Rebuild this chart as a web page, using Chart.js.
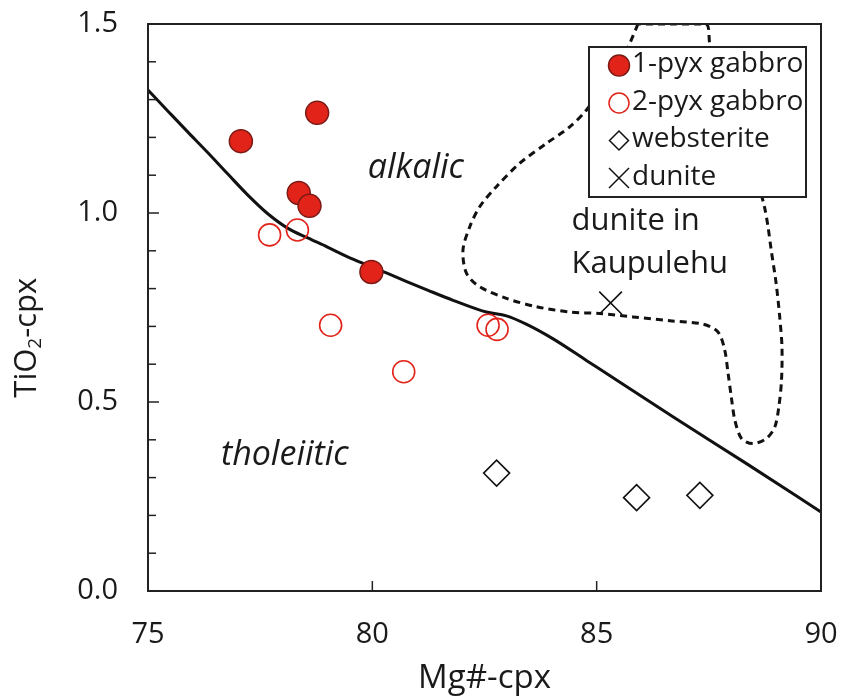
<!DOCTYPE html>
<html>
<head>
<meta charset="utf-8">
<script src="https://cdn.jsdelivr.net/npm/chart.js@4"></script>
<style>
html,body{margin:0;padding:0;background:#fff;}
canvas{display:block;}
</style>
</head>
<body>
<canvas id="c" width="842" height="698"></canvas>
<script>
// ---- data ----
const xTickLabels = ['75','80','85','90'];
const yTickLabels = ['0.0','0.5','1.0','1.5'];

const gabbro1X = [77.07, 78.77, 78.36, 78.60, 79.98];
const gabbro1Y = [1.190, 1.265, 1.053, 1.019, 0.844];

const gabbro2X = [77.71, 78.33, 79.07, 80.70, 82.58, 82.78];
const gabbro2Y = [0.942, 0.955, 0.703, 0.580, 0.703, 0.692];

const websteriteX = [82.77, 85.89, 87.30];
const websteriteY = [0.312, 0.247, 0.253];

const duniteX = [85.31];
const duniteY = [0.762];

// alkalic / tholeiitic boundary
const boundaryX = [75.0, 75.44, 75.89, 76.33, 76.78, 77.22, 77.67, 78.11, 78.56, 79.00, 79.45, 79.89, 80.34, 80.78, 81.23, 81.80, 82.54, 82.99, 83.43, 84.03, 84.77, 85.51, 86.70, 88.34, 90.0];
const boundaryY = [1.325, 1.270, 1.214, 1.160, 1.103, 1.048, 0.998, 0.960, 0.934, 0.910, 0.884, 0.862, 0.840, 0.818, 0.796, 0.769, 0.738, 0.728, 0.706, 0.667, 0.610, 0.553, 0.461, 0.337, 0.209];

// field of dunite in Kaupulehu (dashed outline)
const fieldX = [85.92, 85.74, 85.51, 85.07, 84.77, 84.40, 83.88, 83.28, 82.76, 82.39, 82.17, 82.02, 82.10, 82.39, 82.99, 83.66, 84.40, 85.07, 85.81, 86.63, 87.37, 87.70, 87.85, 87.93, 88.00, 88.08, 88.23, 88.48, 88.78, 88.97, 89.06, 89.12, 89.13, 89.08, 89.00, 88.89, 88.82, 88.74, 88.60, 88.25, 87.85, 87.52, 87.44, 86.70, 85.92];
const fieldY = [1.50, 1.449, 1.387, 1.325, 1.272, 1.228, 1.184, 1.131, 1.069, 1.016, 0.963, 0.902, 0.840, 0.805, 0.774, 0.752, 0.738, 0.734, 0.725, 0.715, 0.706, 0.686, 0.640, 0.575, 0.514, 0.452, 0.403, 0.390, 0.403, 0.434, 0.487, 0.558, 0.646, 0.725, 0.814, 0.902, 0.963, 1.016, 1.075, 1.180, 1.310, 1.449, 1.50, 1.50, 1.50];

const FONT = "'Open Sans', 'Noto Sans', sans-serif";
const toPts = (xs, ys) => xs.map((x, i) => ({x: x, y: ys[i]}));

const frameTicks = {
  id: 'frameTicks',
  afterDatasetsDraw(chart) {
    const ctx = chart.ctx;
    const a = chart.chartArea;
    const xs = chart.scales.x, ys = chart.scales.y;
    ctx.save();
    ctx.strokeStyle = '#222';
    ctx.lineWidth = 2;
    ctx.strokeRect(a.left, a.top, a.right - a.left, a.bottom - a.top);
    // y ticks inward
    ys.ticks.forEach(t => {
      const p = ys.getPixelForValue(t.value);
      const major = Math.abs(t.value * 2 - Math.round(t.value * 2)) < 1e-6;
      const len = major ? 11 : 8;
      ctx.beginPath();
      ctx.moveTo(a.left, p);
      ctx.lineTo(a.left + len, p);
      ctx.lineWidth = 1.5;
      ctx.stroke();
    });
    xs.ticks.forEach(t => {
      const p = xs.getPixelForValue(t.value);
      ctx.beginPath();
      ctx.moveTo(p, a.bottom);
      ctx.lineTo(p, a.bottom - 10);
      ctx.lineWidth = 1.5;
      ctx.stroke();
    });
    // annotations
    ctx.fillStyle = '#1a1a1a';
    ctx.textBaseline = 'middle';
    ctx.textAlign = 'center';
    ctx.font = "italic 34px " + FONT;
    ctx.fillText('alkalic', xs.getPixelForValue(80.97), ys.getPixelForValue(1.119));
    ctx.fillText('tholeiitic', xs.getPixelForValue(78.05), ys.getPixelForValue(0.359));
    ctx.textAlign = 'left';
    ctx.textBaseline = 'alphabetic';
    ctx.font = "31px " + FONT;
    ctx.fillText('dunite in', xs.getPixelForValue(84.44), ys.getPixelForValue(0.954));
    ctx.fillText('Kaupulehu', xs.getPixelForValue(84.44), ys.getPixelForValue(0.840));

    // legend box
    const lx = a.left + 441, ly = a.top + 23, lw = 217, lh = 150;
    ctx.fillStyle = '#fff';
    ctx.fillRect(lx, ly, lw, lh);
    ctx.strokeStyle = '#222';
    ctx.lineWidth = 2;
    ctx.strokeRect(lx, ly, lw, lh);
    const mx = lx + 30;
    const tx = lx + 43;
    const rows = [ly + 18.5, ly + 56, ly + 93.5, ly + 131];
    // filled circle
    ctx.beginPath();
    ctx.arc(mx, rows[0], 10.5, 0, Math.PI * 2);
    ctx.fillStyle = '#e2231a';
    ctx.fill();
    ctx.strokeStyle = '#7a1a14';
    ctx.lineWidth = 1.5;
    ctx.stroke();
    // open circle
    ctx.beginPath();
    ctx.arc(mx, rows[1], 10, 0, Math.PI * 2);
    ctx.strokeStyle = '#e2231a';
    ctx.lineWidth = 1.5;
    ctx.stroke();
    // diamond
    ctx.beginPath();
    ctx.moveTo(mx - 9.5, rows[2]);
    ctx.lineTo(mx, rows[2] - 9.5);
    ctx.lineTo(mx + 9.5, rows[2]);
    ctx.lineTo(mx, rows[2] + 9.5);
    ctx.closePath();
    ctx.strokeStyle = '#111';
    ctx.lineWidth = 1.5;
    ctx.stroke();
    // cross
    ctx.beginPath();
    ctx.moveTo(mx - 10, rows[3] - 10);
    ctx.lineTo(mx + 10, rows[3] + 10);
    ctx.moveTo(mx + 10, rows[3] - 10);
    ctx.lineTo(mx - 10, rows[3] + 10);
    ctx.stroke();
    ctx.fillStyle = '#1a1a1a';
    ctx.font = "28px " + FONT;
    ctx.textBaseline = 'middle';
    const names = chart.data.datasets.filter(d => d.legendName).map(d => d.legendName);
    names.forEach((n, i) => ctx.fillText(n, tx, rows[i] - 1));

    // y title with subscript
    ctx.save();
    ctx.translate(27, ys.getPixelForValue(0.67));
    ctx.rotate(-Math.PI / 2);
    ctx.font = "31px " + FONT;
    ctx.textBaseline = 'middle';
    ctx.textAlign = 'left';
    const p1 = 'TiO', p2 = '2', p3 = '-cpx';
    const w1 = ctx.measureText(p1).width;
    const w3 = ctx.measureText(p3).width;
    ctx.font = "19px " + FONT;
    const w2 = ctx.measureText(p2).width;
    const total = w1 + w2 + w3;
    let x0 = -total / 2;
    ctx.font = "31px " + FONT;
    ctx.fillText(p1, x0, 0);
    ctx.font = "19px " + FONT;
    ctx.fillText(p2, x0 + w1, 9);
    ctx.font = "31px " + FONT;
    ctx.fillText(p3, x0 + w1 + w2, 0);
    ctx.restore();
    ctx.restore();
  }
};

const zeroPad = s => { s.paddingTop = 0; s.paddingBottom = 0; s.paddingLeft = 0; s.paddingRight = 0; };

new Chart(document.getElementById('c'), {
  type: 'scatter',
  data: {
    datasets: [
      {
        legendName: '1-pyx gabbro',
        data: toPts(gabbro1X, gabbro1Y),
        pointStyle: 'circle', pointRadius: 11.5,
        backgroundColor: '#e2231a', borderColor: '#7a1a14', borderWidth: 1.5,
        order: 0
      },
      {
        legendName: '2-pyx gabbro',
        data: toPts(gabbro2X, gabbro2Y),
        pointStyle: 'circle', pointRadius: 11,
        backgroundColor: 'rgba(0,0,0,0)', borderColor: '#e2231a', borderWidth: 1.6,
        order: 1
      },
      {
        legendName: 'websterite',
        data: toPts(websteriteX, websteriteY),
        pointStyle: 'rectRot', pointRadius: 13,
        backgroundColor: 'rgba(0,0,0,0)', borderColor: '#111', borderWidth: 1.6,
        order: 2
      },
      {
        legendName: 'dunite',
        data: toPts(duniteX, duniteY),
        pointStyle: 'crossRot', pointRadius: 16,
        borderColor: '#111', borderWidth: 1.6,
        order: 3
      },
      {
        data: toPts(boundaryX, boundaryY),
        showLine: true, pointRadius: 0, borderColor: '#111', borderWidth: 3,
        cubicInterpolationMode: 'monotone', fill: false,
        order: 10
      },
      {
        data: toPts(fieldX, fieldY),
        showLine: true, pointRadius: 0, borderColor: '#111', borderWidth: 3,
        borderDash: [7, 5], tension: 0.3, fill: false,
        order: 11
      }
    ]
  },
  options: {
    responsive: false,
    devicePixelRatio: 1,
    animation: false,
    layout: { padding: { top: 24, right: 21, left: 0, bottom: 0 } },
    plugins: { legend: { display: false }, tooltip: { enabled: false } },
    scales: {
      x: {
        type: 'linear', min: 75, max: 90,
        grid: { display: false, drawTicks: false },
        border: { display: false },
        ticks: {
          stepSize: 5, padding: 26, color: '#1a1a1a', autoSkip: false, maxRotation: 0,
          font: { family: FONT, size: 29 },
          callback: v => { const i = Math.round((v - 75) / 5); return Math.abs(v - (75 + i * 5)) < 1e-6 ? xTickLabels[i] : ''; }
        },
        title: { display: true, text: 'Mg#-cpx', color: '#1a1a1a', font: { family: FONT, size: 33 }, padding: { top: 2, bottom: 0 } },
        afterFit: s => { s.height = 107; zeroPad(s); }
      },
      y: {
        type: 'linear', min: 0, max: 1.5,
        grid: { display: false, drawTicks: false },
        border: { display: false },
        ticks: {
          stepSize: 0.1, padding: 30, color: '#1a1a1a', autoSkip: false,
          font: { family: FONT, size: 29 },
          callback: v => { const i = Math.round(v / 0.5); return Math.abs(v - i * 0.5) < 1e-6 ? yTickLabels[i] : ''; }
        },
        afterFit: s => { s.width = 148; zeroPad(s); }
      }
    }
  },
  plugins: [frameTicks]
});
</script>
</body>
</html>
